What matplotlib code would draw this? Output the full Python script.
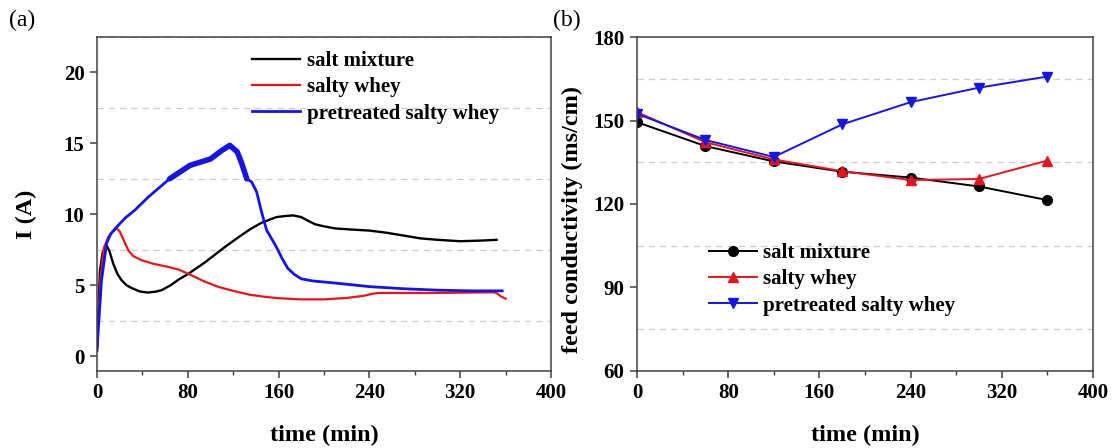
import matplotlib
matplotlib.use("Agg")
import matplotlib.pyplot as plt
from matplotlib.ticker import MultipleLocator

plt.rcParams['font.family'] = ['Liberation Serif', 'DejaVu Serif']

# ---- panel (a): current vs time ----
labels = ["salt mixture", "salty whey", "pretreated salty whey"]

t_salt = [0, 2.6, 5, 8.5, 11, 14.4, 18, 21.7, 26, 30.5, 38, 45, 52, 57, 65, 72, 80.5, 95,
          112.8, 125, 135, 145, 158, 166, 173, 180, 185, 192, 200, 210, 225, 240, 255, 270, 285,
          300, 320, 340, 352]
i_salt = [0.4, 6.0, 7.3, 7.8, 7.4, 6.5, 5.8, 5.35, 5.0, 4.8, 4.55, 4.48, 4.55, 4.65, 5.0, 5.4,
          5.8, 6.6, 7.7, 8.4, 8.95, 9.4, 9.8, 9.88, 9.92, 9.8, 9.58, 9.3, 9.15, 9.0, 8.92, 8.85,
          8.7, 8.5, 8.3, 8.2, 8.1, 8.15, 8.2]

t_whey = [0, 3, 6, 10, 14, 17.3, 20, 24, 27.6, 32, 39.4, 50, 62.8, 72, 80.5, 95, 107, 120,
          135, 148, 160, 180, 200, 220, 235, 243, 248, 300, 349, 352, 356, 360]
i_whey = [0.4, 5.5, 7.6, 8.4, 8.8, 9.0, 8.8, 8.1, 7.46, 7.05, 6.76, 6.5, 6.29, 6.1, 5.8, 5.25,
          4.88, 4.6, 4.32, 4.18, 4.08, 4.0, 4.0, 4.1, 4.25, 4.4, 4.45, 4.45, 4.5, 4.45, 4.2, 4.05]

t_pre = [0, 4, 8.5, 12, 17.3, 25, 33.5, 45, 64, 82, 100, 110, 117, 123.6, 127.5, 132,
         136.3, 140.7, 145, 149.5, 153, 158, 163, 168, 174, 180, 190, 210, 240, 270, 300,
         330, 357]
i_pre = [0.4, 5.35, 7.95, 8.6, 9.1, 9.75, 10.3, 11.2, 12.5, 13.45, 13.9, 14.5, 14.86, 14.4,
         13.6, 12.5, 12.28, 11.57, 10.16, 8.87, 8.4, 7.7, 6.9, 6.2, 5.75, 5.45, 5.3, 5.15,
         4.9, 4.75, 4.65, 4.6, 4.6]

# ---- panel (b): feed conductivity ----
t_cond = [0, 60, 120, 180, 240, 300, 360]
c_salt = [149.4, 140.8, 135.3, 131.6, 129.5, 126.3, 121.4]
c_whey = [153.0, 142.2, 136.0, 131.8, 128.6, 129.0, 135.6]
c_pre = [152.4, 143.0, 136.9, 148.6, 156.6, 161.8, 165.8]

colors = ["black", "#e8141c", "#1414e6"]

fig = plt.figure(figsize=(11.17, 4.48), dpi=100)
axA = fig.add_axes([0.0868, 0.1719, 0.4065, 0.7455])
axB = fig.add_axes([0.5703, 0.1719, 0.4082, 0.7455])

label_fp = dict(fontsize=17.5, fontweight='bold')
legend_prop = dict(family='Liberation Serif', weight='bold', size=15)
spine_col = '#404040'


def style(ax):
    for s in ax.spines.values():
        s.set_color(spine_col)
        s.set_linewidth(1.1)
    ax.tick_params(which='both', direction='out', colors=spine_col, labelcolor='black',
                   top=False, right=False)
    ax.tick_params(which='major', length=5, width=1.1, labelsize=15, pad=4)
    ax.tick_params(axis='x', which='minor', length=3, width=1.0)
    ax.tick_params(axis='y', which='minor', length=0)
    ax.grid(which='minor', axis='y', linestyle=(0, (5, 4)), color='#cccccc', linewidth=0.9)
    ax.set_axisbelow(True)
    for lab in ax.get_xticklabels() + ax.get_yticklabels():
        lab.set_fontweight('bold')
    ax.set_xlabel("time (min)", **label_fp)
    ax.xaxis.set_label_coords(0.5, -0.16)


# panel a
axA.plot(t_salt, i_salt, color=colors[0], lw=1.7, label=labels[0])
axA.plot(t_whey, i_whey, color=colors[1], lw=1.6, label=labels[1])
axA.plot(t_pre, i_pre, color=colors[2], lw=2.0, label=labels[2])
# noisy stretch of the blue record drawn as a wider band
axA.plot(t_pre[8:16], i_pre[8:16], color=colors[2], lw=4.0, solid_capstyle='round')
axA.set_xlim(0, 400)
axA.set_ylim(-1.05, 22.5)
axA.xaxis.set_major_locator(MultipleLocator(80))
axA.xaxis.set_minor_locator(MultipleLocator(40))
axA.yaxis.set_minor_locator(MultipleLocator(2.5))
axA.set_yticks([0, 5, 10, 15, 20])
style(axA)
axA.set_ylabel("I (A)", **label_fp)
axA.yaxis.set_label_coords(-0.131, 0.47)
axA.legend(loc='upper left', bbox_to_anchor=(0.315, 0.995), frameon=False,
           prop=legend_prop, handlelength=2.3, handletextpad=0.3, labelspacing=0.3,
           borderaxespad=0.2)

# panel b
axB.plot(t_cond, c_salt, color=colors[0], lw=1.4, marker='o', ms=7, label=labels[0])
axB.plot(t_cond, c_whey, color=colors[1], lw=1.4, marker='^', ms=7.5, label=labels[1])
axB.plot(t_cond, c_pre, color=colors[2], lw=1.4, marker='v', ms=7.5, label=labels[2])
axB.set_xlim(0, 400)
axB.set_ylim(60, 180)
axB.xaxis.set_major_locator(MultipleLocator(80))
axB.xaxis.set_minor_locator(MultipleLocator(40))
axB.yaxis.set_major_locator(MultipleLocator(30))
axB.yaxis.set_minor_locator(MultipleLocator(15))
style(axB)
axB.set_ylabel("feed conductivity (ms/cm)", **label_fp)
axB.yaxis.set_label_coords(-0.118, 0.455)
axB.legend(loc='upper left', bbox_to_anchor=(0.13, 0.42), frameon=False,
           prop=legend_prop, handlelength=2.3, handletextpad=0.3, labelspacing=0.3,
           borderaxespad=0.2)

fig.text(0.008, 0.955, "(a)", fontsize=17, va='center', ha='left')
fig.text(0.495, 0.955, "(b)", fontsize=17, va='center', ha='left')

fig.savefig("out.png", dpi=100)
